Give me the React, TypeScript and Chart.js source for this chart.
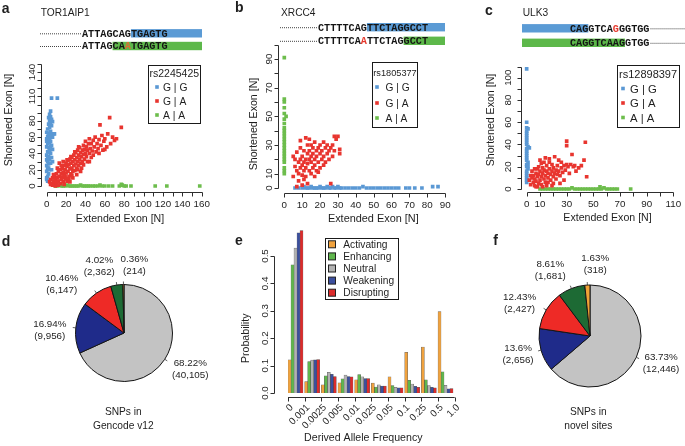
import React, { useEffect, useRef } from 'react';
import { Chart, registerables } from 'chart.js';

Chart.register(...registerables);
Chart.defaults.font.family = '"Liberation Sans", Arial, Helvetica, sans-serif';

const W = 685;
const H = 446;
const SANS = '"Liberation Sans", Arial, Helvetica, sans-serif';
const MONO = '"Liberation Mono", "DejaVu Sans Mono", monospace';
const INK = '#1e1e1e';
const AXIS = '#2e2e2e';

type Pt = [number, number];

// ---------------- shared scatter legend / colours
const genotypes = ['G | G', 'G | A', 'A | A'];
const colGG = '#5a98d4';
const colGA = '#e8352f';
const colAA = '#6dbd4c';
const seqBlue = '#5b9bd5';
const seqGreen = '#5db84a';
const seqRed = '#e5392d';
const seqOrange = '#df6a33';

// ---------------- panel a : TOR1AIP1
const aGene = 'TOR1AIP1';
const aSnp = 'rs2245425';
const aSeqTop = 'ATTAGCAGTGAGTG';
const aSeqBottom = 'ATTAGCAATGAGTG';
const aXTicks = [0, 10, 20, 30, 40, 50, 60, 70, 80, 90, 100, 110, 120, 130, 140, 150, 160];
const aXLabels = [0, 20, 40, 60, 80, 100, 120, 140, 160];
const aYTicks = [0, 10, 20, 30, 40, 50, 60, 70, 80, 90, 100, 110, 120, 130, 140, 150];
const aYLabels = [0, 20, 40, 60, 80, 110, 140];
const aGG: Pt[] = [
  [0, 10], [1, 12], [2, 15], [0, 18], [3, 20], [1, 22], [0, 25], [2, 27], [4, 28], [1, 30], [0, 32], [3, 33],
  [5, 35], [2, 36], [0, 38], [4, 40], [1, 42], [3, 44], [6, 45], [2, 47], [0, 48], [5, 50], [1, 52], [3, 53],
  [4, 55], [2, 57], [0, 58], [6, 60], [1, 61], [3, 62], [5, 63], [2, 65], [0, 66], [4, 67], [7, 64], [1, 70],
  [3, 72], [5, 74], [2, 76], [4, 78], [6, 79], [3, 80], [5, 82], [4, 85], [3, 88], [4, 92], [5, 108], [11, 108],
  [8, 64], [1, 35], [2, 42], [0, 55], [3, 58], [2, 84], [1, 6], [0, 8], [6, 30], [5, 20], [4, 48], [2, 22],
];
const aGA: Pt[] = [
  [3, 5], [4, 8], [5, 3], [6, 10], [7, 6], [8, 2], [8, 12], [9, 8], [10, 4], [10, 15], [11, 10], [12, 6],
  [12, 18], [13, 12], [14, 3], [14, 20], [15, 8], [15, 15], [16, 22], [16, 11], [17, 5], [17, 17], [18, 25],
  [18, 13], [19, 9], [19, 20], [20, 28], [20, 16], [21, 24], [21, 6], [22, 18], [22, 31], [23, 12], [23, 26],
  [24, 21], [24, 33], [25, 15], [25, 28], [26, 35], [26, 22], [27, 10], [27, 30], [28, 25], [28, 38], [29, 19],
  [29, 32], [30, 27], [30, 41], [31, 22], [31, 35], [32, 30], [32, 44], [33, 25], [33, 38], [34, 33], [34, 47],
  [35, 28], [35, 41], [36, 36], [36, 22], [37, 44], [37, 30], [38, 39], [38, 50], [39, 33], [39, 45], [40, 40],
  [40, 55], [41, 36], [41, 48], [42, 44], [42, 30], [43, 52], [44, 40], [44, 58], [45, 46], [46, 35], [46, 52],
  [47, 43], [48, 56], [49, 48], [50, 60], [51, 42], [52, 52], [53, 46], [54, 57], [55, 75], [56, 50], [57, 62],
  [58, 44], [59, 55], [60, 58], [62, 48], [63, 64], [65, 84], [66, 52], [68, 60], [70, 56], [72, 58], [77, 72],
  [6, 1], [9, 0], [12, 1], [4, 2], [7, 14], [11, 22], [13, 28], [15, 25], [17, 30], [19, 12], [21, 32], [23, 8],
  [25, 36], [27, 18], [29, 42], [31, 14], [33, 48], [35, 18], [24, 5], [18, 2], [20, 9], [26, 13], [32, 20],
  [38, 26], [44, 30], [48, 38], [54, 40], [60, 45],
];
const aAA: Pt[] = [
  [9, 0], [11, 0], [13, 1], [15, 0], [17, 0], [19, 0], [21, 1], [23, 0], [25, 0], [27, 0], [29, 0], [31, 0],
  [33, 0], [35, 1], [37, 0], [39, 0], [41, 0], [43, 0], [45, 0], [48, 0], [50, 0], [53, 0], [55, 1], [57, 0],
  [60, 0], [64, 0], [68, 0], [75, 0], [77, 2], [78, 1], [80, 0], [82, 0], [87, 0], [112, 0], [124, 0], [158, 0],
];

// ---------------- panel b : XRCC4
const bGene = 'XRCC4';
const bSnp = 'rs1805377';
const bSeqTop = 'CTTTTCAGTTCTAGGCCT';
const bSeqBottom = 'CTTTTCAATTCTAGGCCT';
const bXTicks = [0, 10, 20, 30, 40, 50, 60, 70, 80, 90];
const bXLabels = [0, 10, 20, 30, 40, 50, 60, 70, 80, 90];
const bYTicks = [0, 10, 20, 30, 40, 50, 60, 70, 80, 90, 100];
const bYLabels = [0, 10, 30, 50, 70, 90];
const bGG: Pt[] = [
  [6, 0], [8, 0], [10, 0], [11, 1], [12, 0], [13, 0], [14, 0], [15, 1], [16, 0], [17, 0], [18, 0], [19, 0],
  [20, 1], [21, 0], [22, 0], [23, 0], [24, 1], [25, 0], [26, 0], [27, 1], [28, 0], [29, 0], [30, 1], [31, 0],
  [32, 0], [34, 0], [36, 0], [38, 0], [40, 0], [42, 0], [44, 1], [46, 0], [48, 0], [50, 0], [52, 0], [54, 0],
  [56, 0], [58, 0], [60, 0], [62, 0], [64, 0], [68, 0], [70, 0], [73, 0], [77, 0], [83, 1], [86, 1],
];
const bGA: Pt[] = [
  [5, 22], [5, 8], [6, 15], [6, 20], [7, 12], [7, 25], [8, 18], [8, 10], [8, 5], [9, 20], [9, 14], [9, 28],
  [10, 16], [10, 22], [10, 9], [11, 12], [11, 26], [11, 18], [12, 20], [12, 35], [12, 14], [12, 8], [13, 24],
  [13, 17], [13, 30], [14, 12], [14, 20], [14, 26], [15, 18], [15, 22], [15, 10], [15, 30], [16, 14], [16, 24],
  [16, 28], [17, 20], [17, 16], [17, 32], [18, 22], [18, 26], [18, 12], [19, 18], [19, 28], [20, 24], [20, 30],
  [20, 14], [21, 20], [21, 26], [22, 32], [22, 22], [23, 28], [23, 18], [24, 24], [24, 30], [25, 26], [25, 20],
  [26, 28], [26, 3], [27, 30], [27, 22], [28, 36], [28, 26], [29, 34], [30, 36], [31, 27], [31, 24], [10, 2],
  [7, 1], [9, 33], [11, 6], [14, 34], [19, 11], [22, 16], [17, 8], [13, 3],
];
const bAA: Pt[] = [
  [0, 91], [0, 62], [0, 60], [1, 50], [0, 56], [0, 52], [0, 48], [0, 45], [0, 42], [0, 40], [0, 38], [0, 36],
  [0, 34], [0, 32], [0, 30], [0, 28], [0, 26], [0, 24], [0, 22], [0, 20], [0, 18], [0, 14], [0, 12], [0, 10],
];

// ---------------- panel c : ULK3
const cGene = 'ULK3';
const cSnp = 'rs12898397';
const cSeqTop = 'CAGGTCAGGGTGG';
const cSeqBottom = 'CAGGTCAAGGTGG';
const cXTicks = [0, 10, 20, 30, 40, 50, 60, 70, 80, 90, 100, 110];
const cXLabels = [0, 10, 30, 50, 70, 90, 110];
const cYTicks = [0, 10, 20, 30, 40, 50, 60, 70, 80, 90, 100, 110];
const cYLabels = [0, 20, 40, 60, 80, 100];
const cGG: Pt[] = [
  [0, 108], [0, 60], [0, 55], [1, 54], [0, 52], [0, 50], [0, 48], [0, 46], [0, 44], [0, 42], [0, 40], [1, 38],
  [0, 36], [0, 34], [0, 32], [0, 30], [0, 28], [0, 26], [1, 24], [0, 22], [0, 20], [1, 18], [0, 16], [0, 14],
  [0, 12], [0, 10], [0, 8], [0, 6], [1, 21], [2, 37],
];
const cGA: Pt[] = [
  [2, 8], [3, 12], [3, 4], [4, 10], [4, 16], [5, 6], [5, 12], [6, 9], [6, 3], [7, 14], [7, 7], [8, 11], [8, 18],
  [9, 5], [9, 13], [10, 8], [10, 16], [10, 26], [11, 11], [11, 4], [12, 14], [12, 19], [13, 9], [13, 24],
  [14, 12], [14, 6], [15, 16], [15, 21], [16, 10], [16, 14], [17, 18], [17, 27], [18, 8], [18, 13], [19, 16],
  [19, 22], [20, 11], [20, 19], [21, 14], [21, 29], [22, 9], [22, 17], [23, 21], [23, 13], [24, 26], [24, 16],
  [25, 12], [26, 19], [26, 24], [27, 15], [28, 21], [28, 8], [29, 17], [30, 22], [30, 43], [30, 39], [31, 20],
  [32, 14], [33, 22], [34, 31], [35, 20], [36, 21], [37, 16], [39, 19], [41, 21], [43, 26], [44, 42], [45, 11],
  [12, 2], [8, 2], [15, 3], [20, 5], [25, 5], [17, 24], [14, 28], [19, 3], [6, 18], [11, 23], [13, 17], [16, 6],
  [9, 20], [7, 2],
];
const cAA: Pt[] = [
  [10, 0], [12, 0], [14, 0], [16, 0], [18, 0], [20, 0], [22, 0], [24, 0], [26, 0], [28, 0], [30, 0], [32, 0],
  [34, 1], [36, 0], [38, 0], [40, 0], [42, 0], [44, 0], [46, 0], [48, 0], [50, 0], [52, 0], [54, 0], [55, 2],
  [56, 0], [58, 1], [60, 0], [62, 0], [64, 0], [66, 0], [68, 0], [78, 0],
];

// ---------------- pies d / f
const pieClasses = ['Neutral', 'Weakening', 'Disrupting', 'Enhancing', 'Activating'];
const pieColors = ['#c3c3c3', '#1f2b8a', '#ee2a26', '#1d6a34', '#f1a236'];
const dCounts = [40105, 9956, 6147, 2362, 214];
const fCounts = [12446, 2656, 2427, 1681, 318];
const dCaption = ['SNPs in', 'Gencode v12'];
const fCaption = ['SNPs in', 'novel sites'];

// ---------------- panel e
const eBins = ['0', '0.001', '0.0025', '0.005', '0.01', '0.025', '0.05', '0.1', '0.25', '0.5', '1.0'];
const eClasses = ['Activating', 'Enhancing', 'Neutral', 'Weakening', 'Disrupting'];
const eColors = ['#f0a23e', '#5fb64c', '#b2b2b2', '#3b4f9e', '#dc2b2b'];
const eActivating = [0.121, 0.042, 0.030, 0.037, 0.048, 0.036, 0.059, 0.148, 0.168, 0.297];
const eEnhancing = [0.468, 0.115, 0.063, 0.052, 0.067, 0.022, 0.027, 0.046, 0.048, 0.077];
const eNeutral = [0.529, 0.120, 0.075, 0.065, 0.059, 0.030, 0.021, 0.033, 0.027, 0.028];
const eWeakening = [0.585, 0.121, 0.068, 0.060, 0.053, 0.025, 0.019, 0.024, 0.021, 0.015];
const eDisrupting = [0.593, 0.122, 0.060, 0.059, 0.053, 0.025, 0.019, 0.021, 0.019, 0.016];
const eYTicks = [0, 0.1, 0.2, 0.3, 0.4, 0.5];

// ---------------- drawing helpers
function txt(ctx: CanvasRenderingContext2D, s: string, x: number, y: number, size: number, o: any = {}) {
  ctx.save();
  ctx.font = `${o.weight || 'normal'} ${size}px ${o.font || SANS}`;
  ctx.fillStyle = o.color || INK;
  ctx.textAlign = o.align || 'center';
  ctx.textBaseline = 'alphabetic';
  ctx.translate(x, y);
  if (o.rot) ctx.rotate(o.rot);
  ctx.fillText(s, 0, o.base ? 0 : 0.36 * size);
  ctx.restore();
}

function xAxis(ctx: CanvasRenderingContext2D, sc: any, yLine: number, ticks: number[], labels: number[], base: number, size = 9.8) {
  const y = Math.round(yLine) + 0.5;
  ctx.save();
  ctx.strokeStyle = AXIS;
  ctx.lineWidth = 1;
  ctx.beginPath();
  ctx.moveTo(Math.round(sc.getPixelForValue(ticks[0])) + 0.5, y);
  ctx.lineTo(Math.round(sc.getPixelForValue(ticks[ticks.length - 1])) + 0.5, y);
  for (const t of ticks) {
    const x = Math.round(sc.getPixelForValue(t)) + 0.5;
    ctx.moveTo(x, y);
    ctx.lineTo(x, y + 4);
  }
  ctx.stroke();
  ctx.restore();
  for (const v of labels) txt(ctx, String(v), sc.getPixelForValue(v), y + base, size, { base: true });
}

function yAxis(ctx: CanvasRenderingContext2D, sc: any, xLine: number, ticks: number[], labels: number[], off: number, size = 9.8, fmt = (v: number) => String(v)) {
  const x = Math.round(xLine) + 0.5;
  ctx.save();
  ctx.strokeStyle = AXIS;
  ctx.lineWidth = 1;
  ctx.beginPath();
  ctx.moveTo(x, Math.round(sc.getPixelForValue(ticks[0])) + 0.5);
  ctx.lineTo(x, Math.round(sc.getPixelForValue(ticks[ticks.length - 1])) + 0.5);
  for (const t of ticks) {
    const y = Math.round(sc.getPixelForValue(t)) + 0.5;
    ctx.moveTo(x, y);
    ctx.lineTo(x - 4, y);
  }
  ctx.stroke();
  ctx.restore();
  for (const v of labels) {
    ctx.save();
    ctx.font = `${size}px ${SANS}`;
    ctx.fillStyle = INK;
    ctx.textAlign = 'center';
    ctx.textBaseline = 'alphabetic';
    ctx.translate(x - off, sc.getPixelForValue(v));
    ctx.rotate(-Math.PI / 2);
    ctx.fillText(fmt(v), 0, 0);
    ctx.restore();
  }
}

type Pos = { c: number } | { px: number };
function seqRow(ctx: CanvasRenderingContext2D, r: any) {
  const size = 10.2;
  ctx.save();
  ctx.font = `bold ${size}px ${MONO}`;
  const cw = ctx.measureText('A').width;
  const at = (p: Pos) => ('c' in p ? r.x + p.c * cw : p.px);
  const bx0 = at(r.barFrom);
  const bx1 = at(r.barTo);
  ctx.fillStyle = r.barColor;
  ctx.fillRect(bx0, r.y - 4.2, bx1 - bx0, 8.4);
  ctx.fillStyle = '#444';
  for (let x = r.dotFrom; x < r.dotTo; x += 2) ctx.fillRect(x, r.y, 1, 1);
  ctx.textAlign = 'left';
  ctx.textBaseline = 'alphabetic';
  for (let i = 0; i < r.seq.length; i++) {
    ctx.fillStyle = i === r.hl ? r.hlColor : '#141414';
    ctx.fillText(r.seq[i], r.x + i * cw, r.y + 3.4);
  }
  ctx.restore();
  return r.x + r.seq.length * cw;
}

function scatterLegend(ctx: CanvasRenderingContext2D, L: any) {
  ctx.save();
  ctx.strokeStyle = '#1a1a1a';
  ctx.lineWidth = 1;
  ctx.strokeRect(Math.round(L.x) + 0.5, Math.round(L.y) + 0.5, Math.round(L.w), Math.round(L.h));
  ctx.restore();
  txt(ctx, L.title, L.titleX, L.titleY, L.titleSize, { align: 'left' });
  const cols = [colGG, colGA, colAA];
  genotypes.forEach((g, i) => {
    ctx.fillStyle = cols[i];
    ctx.fillRect(L.sqX - 1.8, L.rows[i] - 1.8, 3.6, 3.6);
    txt(ctx, g, L.txtX, L.rows[i], L.size, { align: 'left' });
  });
}

const pts = (arr: Pt[]) => arr.map(([x, y]) => ({ x, y }));
const scatterSet = (label: string, arr: Pt[], color: string) => ({
  label,
  data: pts(arr),
  pointStyle: 'rect',
  pointRadius: 2.6,
  pointBorderWidth: 0,
  borderWidth: 0,
  backgroundColor: color,
  pointBackgroundColor: color,
  showLine: false,
});

const baseOptions = (pad: any) => ({
  responsive: false,
  animation: false,
  devicePixelRatio: 1,
  events: [],
  layout: { padding: pad },
  plugins: { legend: { display: false }, tooltip: { enabled: false }, title: { display: false } },
});

function scatterChart(canvas: HTMLCanvasElement, sets: any[], pad: any, xr: number[], yr: number[], decor: (c: any) => void) {
  return new Chart(canvas, {
    type: 'scatter',
    data: { datasets: sets },
    options: {
      ...baseOptions(pad),
      scales: {
        x: { type: 'linear', display: false, min: xr[0], max: xr[1] },
        y: { type: 'linear', display: false, min: yr[0], max: yr[1] },
      },
    } as any,
    plugins: [{ id: 'decor', afterDraw: (c: any) => decor(c) }],
  });
}

// ---------------- panel makers
function makeA(cv: HTMLCanvasElement) {
  return scatterChart(
    cv,
    [scatterSet('G | A', aGA, colGA), scatterSet('G | G', aGG, colGG), scatterSet('A | A', aAA, colAA)],
    { left: 40.5, top: 59, right: W - 207.9, bottom: H - 191.7 },
    [-6.4, 166.4],
    [-7, 156],
    (c) => {
      const ctx = c.ctx;
      const ca = c.chartArea;
      txt(ctx, 'a', 1.7, 13.3, 14, { weight: 'bold', align: 'left', base: true });
      txt(ctx, aGene, 40.7, 15.7, 10.2, { align: 'left', base: true });
      seqRow(ctx, { x: 82, y: 33.3, seq: aSeqTop, hl: -1, barFrom: { c: 8 }, barTo: { px: 202 }, barColor: seqBlue, dotFrom: 40, dotTo: 81 });
      seqRow(ctx, { x: 82, y: 46, seq: aSeqBottom, hl: 7, hlColor: seqOrange, barFrom: { c: 5 }, barTo: { px: 202 }, barColor: seqGreen, dotFrom: 40, dotTo: 81 });
      xAxis(ctx, c.scales.x, ca.bottom, aXTicks, aXLabels, 14);
      yAxis(ctx, c.scales.y, ca.left, aYTicks, aYLabels, 7);
      txt(ctx, 'Extended Exon [N]', 120, 218.3, 10.6);
      txt(ctx, 'Shortened Exon [N]', 8, 120, 10.6, { rot: -Math.PI / 2 });
      scatterLegend(ctx, { x: 148, y: 65, w: 52, h: 58, title: aSnp, titleX: 149.5, titleY: 73.5, titleSize: 10.5, rows: [87, 101, 115], sqX: 157, txtX: 163, size: 10.3 });
    },
  );
}

function makeB(cv: HTMLCanvasElement) {
  return scatterChart(
    cv,
    [scatterSet('G | A', bGA, colGA), scatterSet('G | G', bGG, colGG), scatterSet('A | A', bAA, colAA)],
    { left: 278.4, top: 188 - 104 * 1.433, right: W - 451.6, bottom: H - 192.7 },
    [-3.3, 93.6],
    [-3.3, 104],
    (c) => {
      const ctx = c.ctx;
      const ca = c.chartArea;
      txt(ctx, 'b', 235, 12.3, 14, { weight: 'bold', align: 'left', base: true });
      txt(ctx, bGene, 281, 16, 10.2, { align: 'left', base: true });
      seqRow(ctx, { x: 318, y: 27.2, seq: bSeqTop, hl: -1, barFrom: { c: 8 }, barTo: { px: 445 }, barColor: seqBlue, dotFrom: 280, dotTo: 317 });
      seqRow(ctx, { x: 318, y: 40.8, seq: bSeqBottom, hl: 7, hlColor: seqRed, barFrom: { c: 14 }, barTo: { px: 445 }, barColor: seqGreen, dotFrom: 280, dotTo: 317 });
      xAxis(ctx, c.scales.x, ca.bottom, bXTicks, bXLabels, 14);
      yAxis(ctx, c.scales.y, ca.left, bYTicks, bYLabels, 6.5);
      txt(ctx, 'Extended Exon [N]', 373.3, 218.3, 10.9);
      txt(ctx, 'Shortened Exon [N]', 253.3, 124, 10.6, { rot: -Math.PI / 2 });
      scatterLegend(ctx, { x: 371.7, y: 61.7, w: 45, h: 65, title: bSnp, titleX: 373.3, titleY: 72.5, titleSize: 9.2, rows: [87, 103, 118], sqX: 377, txtX: 385.5, size: 10.2 });
    },
  );
}

function makeC(cv: HTMLCanvasElement) {
  return scatterChart(
    cv,
    [scatterSet('G | A', cGA, colGA), scatterSet('G | G', cGG, colGG), scatterSet('A | A', cAA, colAA)],
    { left: 520.8, top: 189 - 114.4 * 1.113, right: W - 679.2, bottom: H - 192 },
    [-4.4, 114.4],
    [-2.7, 114.4],
    (c) => {
      const ctx = c.ctx;
      const ca = c.chartArea;
      txt(ctx, 'c', 485, 15, 14, { weight: 'bold', align: 'left', base: true });
      txt(ctx, cGene, 522.7, 16, 10.2, { align: 'left', base: true });
      const e1 = seqRow(ctx, { x: 570, y: 28.3, seq: cSeqTop, hl: 7, hlColor: seqRed, barFrom: { px: 522 }, barTo: { c: 3 }, barColor: seqBlue, dotFrom: 0, dotTo: 0 });
      const e2 = seqRow(ctx, { x: 570, y: 42.8, seq: cSeqBottom, hl: -1, barFrom: { px: 522 }, barTo: { c: 9 }, barColor: seqGreen, dotFrom: 0, dotTo: 0 });
      ctx.save();
      ctx.fillStyle = '#444';
      for (let x = e1 + 1; x < W; x += 2) ctx.fillRect(x, 28.3, 1, 1);
      for (let x = e2 + 1; x < W; x += 2) ctx.fillRect(x, 42.8, 1, 1);
      ctx.restore();
      xAxis(ctx, c.scales.x, ca.bottom, cXTicks, cXLabels, 14);
      yAxis(ctx, c.scales.y, ca.left, cYTicks, cYLabels, 10.5);
      txt(ctx, 'Extended Exon [N]', 607.5, 216.7, 10.6);
      txt(ctx, 'Shortened Exon [N]', 490, 120, 10.6, { rot: -Math.PI / 2 });
      scatterLegend(ctx, { x: 617, y: 65, w: 62, h: 62, title: cSnp, titleX: 619, titleY: 74.5, titleSize: 11, rows: [88.5, 103, 117.5], sqX: 623, txtX: 630, size: 11.3 });
    },
  );
}

function pieChart(cv: HTMLCanvasElement, counts: number[], pad: any, letter: any, offsets: number[][], caption: string[], capX: number) {
  const total = counts.reduce((a, b) => a + b, 0);
  return new Chart(cv, {
    type: 'pie',
    data: {
      labels: pieClasses,
      datasets: [{ data: counts, backgroundColor: pieColors, borderColor: '#151515', borderWidth: 1, hoverBorderWidth: 1, hoverOffset: 0, offset: 0 }],
    },
    options: baseOptions(pad) as any,
    plugins: [
      {
        id: 'pieDecor',
        afterDraw: (c: any) => {
          const ctx = c.ctx;
          txt(ctx, letter.s, letter.x, letter.y, 14, { weight: 'bold', align: 'left', base: true });
          const meta = c.getDatasetMeta(0);
          meta.data.forEach((arc: any, i: number) => {
            const p = arc.getProps(['x', 'y', 'startAngle', 'endAngle', 'outerRadius'], true);
            const mid = (p.startAngle + p.endAngle) / 2;
            const cx = Math.cos(mid);
            const cy = Math.sin(mid);
            ctx.save();
            ctx.strokeStyle = '#333';
            ctx.lineWidth = 0.8;
            ctx.beginPath();
            ctx.moveTo(p.x + cx * p.outerRadius, p.y + cy * p.outerRadius);
            ctx.lineTo(p.x + cx * (p.outerRadius + 3), p.y + cy * (p.outerRadius + 3));
            ctx.stroke();
            ctx.restore();
            const ex = p.x + cx * (p.outerRadius + 3) + offsets[i][0];
            const ey = p.y + cy * (p.outerRadius + 3) + offsets[i][1];
            const pct = Number(((counts[i] / total) * 100).toFixed(2)) + '%';
            const cnt = '(' + counts[i].toLocaleString('en-US') + ')';
            txt(ctx, pct, ex, ey - 6, 9.8);
            txt(ctx, cnt, ex, ey + 6, 9.8);
          });
          txt(ctx, caption[0], capX, 411.5, 10.2);
          txt(ctx, caption[1], capX, 425, 10.2);
        },
      },
    ],
  });
}

const dLabelOffsets = [[23, 8], [-23, 2], [-33, -7], [-17, -17], [11, -17]];
const fLabelOffsets = [[22, 4], [-20, 3], [-24, -6], [-20, -16], [8, -19]];

function makeD(cv: HTMLCanvasElement) {
  return pieChart(cv, dCounts, { left: 75, top: 284, right: W - 173, bottom: H - 382 }, { s: 'd', x: 1.7, y: 245.7 }, dLabelOffsets, dCaption, 123.3);
}

function makeF(cv: HTMLCanvasElement) {
  return pieChart(cv, fCounts, { left: 538.5, top: 284.5, right: W - 641.5, bottom: H - 387.5 }, { s: 'f', x: 493.3, y: 245 }, fLabelOffsets, fCaption, 588.3);
}

const GROUP_CENTER = 0.45;
function makeE(cv: HTMLCanvasElement) {
  const series = [eActivating, eEnhancing, eNeutral, eWeakening, eDisrupting];
  const ticksX = eBins.map((_, i) => i);
  return new Chart(cv, {
    type: 'bar',
    data: {
      datasets: series.map((vals, k) => ({
        label: eClasses[k],
        data: vals.map((v, i) => ({ x: i + GROUP_CENTER, y: v })),
        backgroundColor: eColors[k],
        borderColor: 'rgba(35,35,35,0.7)',
        borderWidth: 0.5,
        barThickness: 3,
      })),
    },
    options: {
      ...baseOptions({ left: 288, top: 393 - 0.62 * 274, right: W - 454.7, bottom: H - 393 }),
      scales: {
        x: { type: 'linear', display: false, min: 0, max: 10, offset: false },
        y: { type: 'linear', display: false, min: 0, max: 0.62 },
      },
    } as any,
    plugins: [
      {
        id: 'eDecor',
        afterDraw: (c: any) => {
          const ctx = c.ctx;
          const ca = c.chartArea;
          const xs = c.scales.x;
          txt(ctx, 'e', 235, 245, 14, { weight: 'bold', align: 'left', base: true });
          const y = Math.round(ca.bottom + 4) + 0.5;
          ctx.save();
          ctx.strokeStyle = AXIS;
          ctx.lineWidth = 1;
          ctx.beginPath();
          ctx.moveTo(xs.getPixelForValue(ticksX[0]), y);
          ctx.lineTo(xs.getPixelForValue(ticksX[ticksX.length - 1]), y);
          for (const t of ticksX) {
            const x = Math.round(xs.getPixelForValue(t)) + 0.5;
            ctx.moveTo(x, y);
            ctx.lineTo(x, y + 4);
          }
          ctx.stroke();
          ctx.restore();
          eBins.forEach((b, i) => {
            txt(ctx, b, xs.getPixelForValue(i) + 3, y + 8, 9.8, { align: 'right', rot: -Math.PI / 4 });
          });
          yAxis(ctx, c.scales.y, ca.left - 14, eYTicks, eYTicks, 6.6, 9.8, (v) => v.toFixed(1));
          txt(ctx, 'Probability', 245, 338.3, 10.6, { rot: -Math.PI / 2 });
          txt(ctx, 'Derived Allele Frequency', 363.3, 437, 10.6);
          ctx.save();
          ctx.strokeStyle = '#1a1a1a';
          ctx.lineWidth = 1;
          ctx.strokeRect(325.5, 238.5, 73, 61);
          eClasses.forEach((name, k) => {
            const yy = 244.3 + k * 12.1;
            ctx.fillStyle = eColors[k];
            ctx.fillRect(328.5, yy - 3.5, 7, 7);
            ctx.strokeStyle = '#222';
            ctx.strokeRect(328.5, yy - 3.5, 7, 7);
            txt(ctx, name, 343.3, yy, 10.2, { align: 'left' });
          });
          ctx.restore();
        },
      },
    ],
  });
}

export default function App() {
  const r1 = useRef<HTMLCanvasElement>(null);
  const r2 = useRef<HTMLCanvasElement>(null);
  const r3 = useRef<HTMLCanvasElement>(null);
  const r4 = useRef<HTMLCanvasElement>(null);
  const r5 = useRef<HTMLCanvasElement>(null);
  const r6 = useRef<HTMLCanvasElement>(null);
  const refs = [r1, r2, r3, r4, r5, r6];
  useEffect(() => {
    const makers = [makeA, makeB, makeC, makeD, makeE, makeF];
    const charts = makers.map((m, i) => m(refs[i].current as HTMLCanvasElement));
    return () => charts.forEach((ch) => ch.destroy());
  }, []);
  return (
    <div style={{ position: 'absolute', left: 0, top: 0, width: W, height: H, background: '#ffffff', overflow: 'hidden' }}>
      {refs.map((r, i) => (
        <canvas key={i} ref={r} width={W} height={H} style={{ position: 'absolute', left: 0, top: 0, width: W, height: H }} />
      ))}
    </div>
  );
}
